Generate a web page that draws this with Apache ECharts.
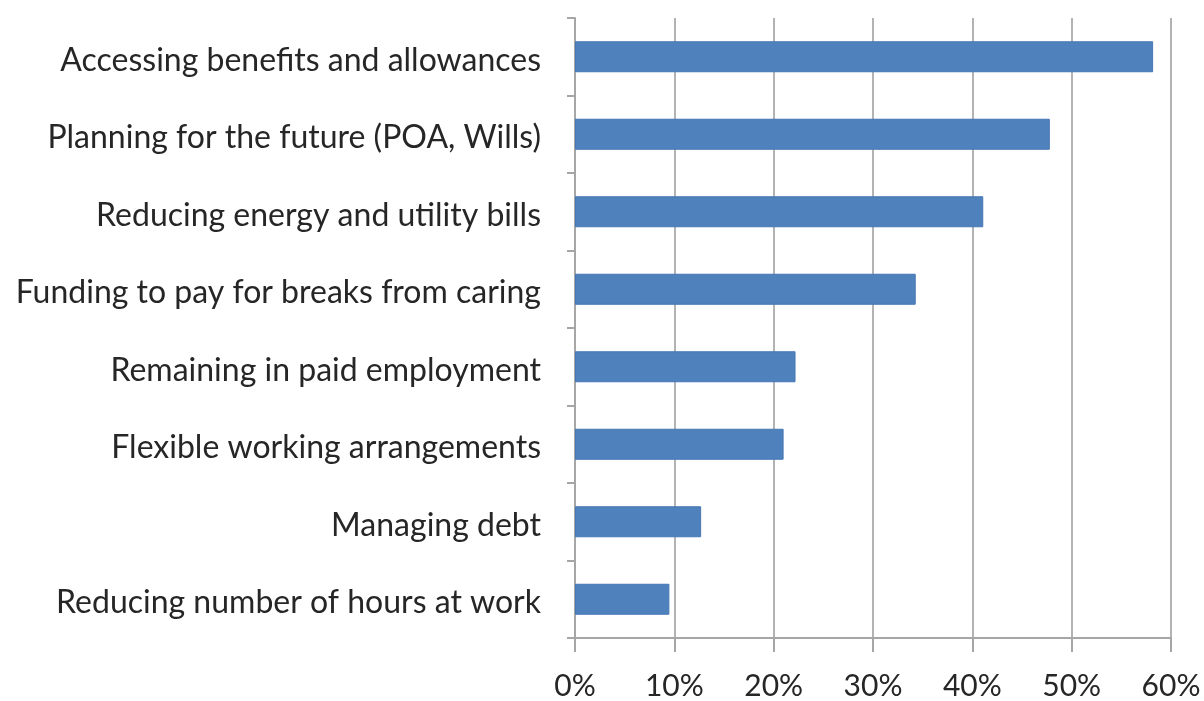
<!DOCTYPE html>
<html>
<head>
<meta charset="utf-8">
<script src="https://cdn.jsdelivr.net/npm/echarts@6/dist/echarts.min.js"></script>
<style>
  html, body { margin: 0; padding: 0; background: #ffffff; }
  #chart { width: 1204px; height: 701px; }
</style>
</head>
<body>
<div id="chart"></div>
<script>
// Support needs reported by carers (percentage of respondents)
const categories = [
  'Accessing benefits and allowances',
  'Planning for the future (POA, Wills)',
  'Reducing energy and utility bills',
  'Funding to pay for breaks from caring',
  'Remaining in paid employment',
  'Flexible working arrangements',
  'Managing debt',
  'Reducing number of hours at work'
];
const values = [58.2, 47.8, 41.1, 34.3, 22.2, 21.0, 12.7, 9.5];
const xTicks = { min: 0, max: 60, step: 10 };

const labelFont = 'Lato, "Open Sans", "Noto Sans", sans-serif';
const axisGrey = '#a6a6a6';

const chart = echarts.init(document.getElementById('chart'), null, { renderer: 'canvas' });
chart.setOption({
  animation: false,
  backgroundColor: '#ffffff',
  grid: { left: 575, right: 33, top: 18, bottom: 58, containLabel: false },
  xAxis: {
    type: 'value',
    min: xTicks.min,
    max: xTicks.max,
    interval: xTicks.step,
    axisLine: { show: true, lineStyle: { color: axisGrey, width: 2 } },
    axisTick: { show: true, length: 14, lineStyle: { color: axisGrey, width: 2 } },
    splitLine: { show: true, lineStyle: { color: '#b3b3b3', width: 2 } },
    axisLabel: {
      formatter: '{value}%',
      color: '#262626',
      fontSize: 30,
      fontFamily: labelFont,
      margin: 33
    }
  },
  yAxis: {
    type: 'category',
    data: categories,
    inverse: true,
    axisLine: { show: true, lineStyle: { color: axisGrey, width: 2 } },
    axisTick: { show: true, length: 8, alignWithLabel: false, lineStyle: { color: axisGrey, width: 2 } },
    splitLine: { show: false },
    axisLabel: {
      margin: 34,
      // category names sit slightly below the band centre
      formatter: name => '{c|' + name + '}',
      rich: {
        c: {
          color: '#262626',
          fontSize: 32,
          fontFamily: labelFont,
          padding: [7, 0, 0, 0]
        }
      }
    }
  },
  series: [{
    type: 'bar',
    data: values,
    barCategoryGap: '60%',
    itemStyle: { color: '#4f81bd', borderColor: '#4677b4', borderWidth: 1 }
  }]
});
</script>
</body>
</html>
